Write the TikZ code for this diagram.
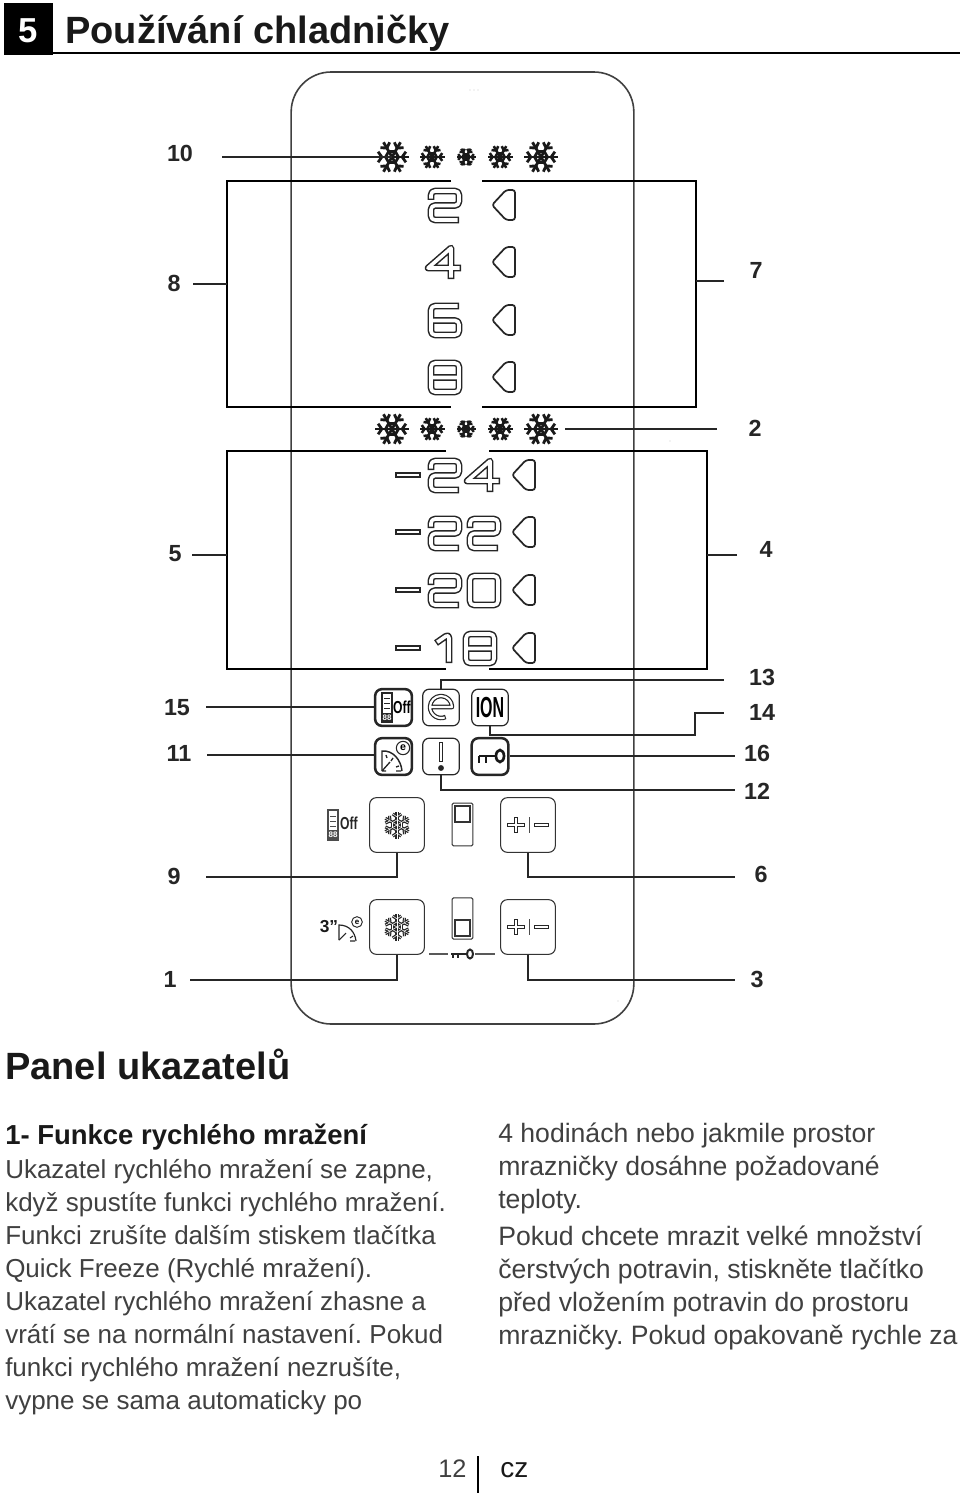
\documentclass[tikz,border=0pt]{standalone}
\usepackage{fontspec}
\setmainfont{Liberation Sans}
\usetikzlibrary{calc}
\tikzset{
 x=0.75pt,y=-0.75pt,
 frame/.style={draw=black,line width=1.1pt},
 lead/.style={draw=black!85,line width=1.1pt},
 lbl/.style={font=\fontsize{17.5}{20}\selectfont\bfseries,text=black!85,inner sep=0pt},
 body/.style={font=\fontsize{19.5}{24}\selectfont,text=black!75,anchor=base west,inner sep=0pt},
 bodyr/.style={font=\fontsize{19.95}{24}\selectfont,text=black!75,anchor=base west,inner sep=0pt},
 bodyb/.style={font=\fontsize{20.6}{24}\selectfont\bfseries,text=black!90,anchor=base west,inner sep=0pt},
 head/.style={font=\fontsize{28.5}{32}\selectfont\bfseries,text=black!90,anchor=base west,inner sep=0pt},
 icon/.style={draw=black!85,line width=0.9pt,rounded corners=5pt,minimum width=27.5pt,minimum height=27.5pt,inner sep=0pt},
 iconh/.style={draw=black!85,line width=1.9pt,rounded corners=5pt,minimum width=27.5pt,minimum height=27.5pt,inner sep=0pt},
 btn/.style={draw=black!80,line width=0.8pt,rounded corners=5pt,minimum width=41pt,minimum height=41pt,inner sep=0pt},
 slider/.style={draw=black!80,line width=0.8pt,rounded corners=1pt,minimum width=15.5pt,minimum height=32pt,inner sep=0pt},
 dout/.style={draw=black!85,line width=5pt,line join=round},
 din/.style={draw=white,line width=2.7pt,line join=round,shorten >=1.1pt,shorten <=1.1pt},
 dinc/.style={draw=white,line width=2.7pt,line join=round},
 iout/.style={draw=black!85,line width=3.4pt,line join=round},
 iin/.style={draw=white,line width=1.6pt,line join=round,shorten >=0.8pt,shorten <=0.8pt},
}
% double-outlined path
\newcommand{\dbl}[1]{\draw[dout,rounded corners=3pt]#1;\draw[din,rounded corners=3pt]#1;}
\newcommand{\dblc}[1]{\draw[dout,rounded corners=3pt]#1;\draw[dinc,rounded corners=3pt]#1;}
\newcommand{\dTwo}[2]{\begin{scope}[shift={(#1,#2)}]\dbl{(0,9)--(0,0)--(28,0)--(28,14.5)--(0,14.5)--(0,29)--(28,29)}\end{scope}}
\newcommand{\dFour}[2]{\begin{scope}[shift={(#1,#2)}]\draw[dout](22,31)--(22,0)--(-1,20)--(32,20);\draw[din](22,31)--(22,0)--(-1,20)--(32,20);\end{scope}}
\newcommand{\dSix}[2]{\begin{scope}[shift={(#1,#2)}]\dbl{(28,0)--(0,0)--(0,29)--(28,29)--(28,14.5)--(0,14.5)}\end{scope}}
\newcommand{\dEight}[2]{\begin{scope}[shift={(#1,#2)}]\dblc{(0,0)--(28,0)--(28,29)--(0,29)--cycle (0,14.5)--(28,14.5)}\end{scope}}
\newcommand{\dZero}[2]{\begin{scope}[shift={(#1,#2)}]\dblc{(0,0)--(28,0)--(28,29)--(0,29)--cycle}\end{scope}}
\newcommand{\dOne}[2]{\begin{scope}[shift={(#1,#2)}]\dbl{(0,9)--(13,0)--(13,29)}\end{scope}}
\newcommand{\dMinus}[2]{\draw[draw=black!85,line width=4.2pt](#1-1,#2)--+(26,0);\draw[draw=white,line width=1.6pt](#1+1,#2)--+(22,0);}
\newcommand{\tagmark}[2]{\draw[draw=black!85,line width=1.3pt,line join=round,rounded corners=2pt,fill=white](#1,#2)--(#1+14,#2-15)--(#1+23,#2-15)--(#1+23,#2+15)--(#1+14,#2+15)--cycle;}
% flake: x,y,radius,start angle,width,colour
\newcommand{\flake}[6]{\begin{scope}[shift={(#1,#2)}]
 \foreach \a in {0,60,...,300}{
  \draw[#6,line width=#5pt,line cap=butt](0,0)--++(\a+#4:#3);
  \draw[#6,line width=#5pt,line cap=butt]($(\a+#4:0.6*#3)$)--($(\a+#4:0.6*#3)+(\a+#4+55:0.38*#3)$);
  \draw[#6,line width=#5pt,line cap=butt]($(\a+#4:0.6*#3)$)--($(\a+#4:0.6*#3)+(\a+#4-55:0.38*#3)$);
  \draw[#6,line width=#5pt]($(\a+#4:0.38*#3)$)--($(\a+60+#4:0.38*#3)$);
 }
\end{scope}}
\begin{document}
\frenchspacing
\begin{tikzpicture}
\useasboundingbox (0,0) rectangle (960,1498);
% header
\node[fill=black,minimum width=36.75pt,minimum height=39pt,inner sep=0pt,font=\fontsize{26}{30}\selectfont\bfseries,text=white,text height=21pt,text depth=0pt] (sec) at (28.5,29) {5};
\coordinate (ruleend) at (960,53);
\draw[draw=black,line width=2.2pt] (sec.east |- ruleend) -- (ruleend);
\node[head] (title) at (65,44) {Používání chladničky};
% panel
\node[draw=black!75,line width=1.2pt,rounded corners=30pt,minimum width=257pt,minimum height=714pt,inner sep=0pt] (panel) at (462.5,548) {};
\fill[black!55] (470,90) circle (0.3pt) (474,90) circle (0.3pt) (478,90) circle (0.3pt) (670,441) circle (0.3pt) (618,1001) circle (0.3pt);
% frames
\coordinate (fa) at (451,181);\coordinate (fb) at (482,181);\coordinate (fc) at (482,407);\coordinate (fd) at (451,407);
\draw[frame] (fa) -- (227,181) -- (227,407) -- (fd);
\draw[frame] (fb) -- (696,181) -- (696,407) -- (fc);
\coordinate (ga) at (446,451);\coordinate (gb) at (489,451);\coordinate (gc) at (489,669);\coordinate (gd) at (446,669);
\draw[frame] (ga) -- (227,451) -- (227,669) -- (gd);
\draw[frame] (gb) -- (707,451) -- (707,669) -- (gc);
% flakes
\foreach \y in {157,429}{
 \flake{392}{\y}{17}{0}{2.1}{black!90}
 \flake{432}{\y}{12.5}{0}{1.9}{black!90}
 \flake{466}{\y}{9.5}{0}{1.8}{black!90}
 \flake{500}{\y}{12.5}{0}{1.9}{black!90}
 \flake{541}{\y}{17}{0}{2.1}{black!90}
}
% fridge digits
\dTwo{431}{191}\dFour{429}{248}\dSix{431}{306}\dEight{431}{363}
\tagmark{492}{205}\tagmark{492}{262}\tagmark{492}{320}\tagmark{492}{377}
% freezer digits
\dMinus{396}{475}\dTwo{431}{461}\dFour{468}{461}
\dMinus{396}{532}\dTwo{431}{519}\dTwo{470}{519}
\dMinus{396}{590}\dTwo{431}{576}\dZero{470}{576}
\dMinus{396}{648}\dOne{436}{634}\dEight{466}{634}
\tagmark{512}{475}\tagmark{512}{532}\tagmark{512}{590}\tagmark{512}{648}
% icons
\node[iconh] (iOff) at (393.5,707.5) {};
\node[icon] (iE) at (441,707.5) {};
\node[icon] (iIon) at (490,707.5) {};
\node[iconh] (iGauge) at (393.5,756.5) {};
\node[icon] (iWarn) at (441,756.5) {};
\node[iconh] (iKey) at (490,756.5) {};
% Off icon
\draw[black!85,line width=0.9pt] (382,693) rectangle (392,722);
\draw[black!85,line width=0.7pt] (384,698)--(390,698) (384,703)--(390,703) (384,708)--(390,708);
\fill[black!85] (382,713) rectangle (392,722);
\node[inner sep=0pt,font=\fontsize{6}{6}\selectfont\bfseries,text=white] (oA) at (387,717.5) {88};
\node[inner sep=0pt,font=\fontsize{13}{14}\selectfont\bfseries,text=black] (oB) at (402,707) {\scalebox{0.7}[1]{Off}};
% e icon
\draw[iout] (430,707)--(452,707) arc (0:-295:11);
\draw[iin] (430,707)--(452,707) arc (0:-295:11);
% ION
\node[inner sep=0pt,font=\fontsize{15}{16}\selectfont\bfseries,text=black] (ion) at (490,708) {\scalebox{0.8}[1.45]{ION}};
% gauge icon
\draw[black!85,line width=1.1pt] (382,771)--(382,751) .. controls (393,750) and (401,760) .. (402,771);
\draw[black!85,line width=1pt] (386,755)--(387,758) (393,758)--(391,761) (399,766)--(396,767) (382,771)--(390,762) (396,771)--(401,771) (382,771)--(386,771);
\node[draw=black!85,line width=0.8pt,circle,inner sep=0pt,minimum size=10pt,font=\fontsize{8}{8}\selectfont\bfseries] (gE) at (403,748) {e};
% warn
\draw[iout] (441,742)--(441,762);
\draw[iin] (441,742)--(441,762);
\fill[black!85] (441,768) circle (2.2pt);
% key
\draw[black!90,line width=1.8pt] (479,756)--(500,756) (479,756)--(479,763) (486,756)--(486,763);
\draw[black!90,line width=2pt,fill=white] (500,756) ellipse (4 and 6);
% off small
\draw[black!70,line width=0.8pt] (328,810) rectangle (338,840);
\draw[black!70,line width=0.6pt] (330,816)--(336,816) (330,821)--(336,821) (330,826)--(336,826);
\fill[black!70] (328,830) rectangle (338,840);
\node[inner sep=0pt,font=\fontsize{6}{6}\selectfont\bfseries,text=white] (oC) at (333,835) {88};
\node[inner sep=0pt,font=\fontsize{13}{14}\selectfont\bfseries,text=black!85] (oD) at (349,823) {\scalebox{0.7}[1]{Off}};
% buttons
\node[btn] (bA) at (397,825) {};
\node[btn] (bB) at (528,825) {};
\node[btn] (bC) at (397,927) {};
\node[btn] (bD) at (528,927) {};
\flake{397}{825}{13.5}{30}{2.3}{black!85}
\flake{397}{825}{13.5}{30}{0.4}{white}
\flake{397}{927}{13.5}{30}{2.3}{black!85}
\flake{397}{927}{13.5}{30}{0.4}{white}
\foreach \y in {825,927}{
 \draw[iout] (507,\y)--(525,\y) (516,\y-8)--(516,\y+8);
 \draw[draw=white,line width=1.2pt] (508,\y)--(524,\y) (516,\y-7)--(516,\y+7);
 \draw[draw=black!70,line width=0.7pt] (529,\y-8)--(529,\y+8);
 \draw[iout] (534,\y)--(549,\y);
 \draw[draw=white,line width=1.2pt] (535,\y)--(548,\y);
}
% sliders
\node[slider] (sA) at (462.5,824.5) {};
\draw[black!80,line width=0.8pt] (455,806) rectangle (470,822);
\node[slider,minimum height=31pt] (sB) at (462.5,918.5) {};
\draw[black!80,line width=0.8pt] (455,920) rectangle (470,936);
% small key row
\coordinate (ka) at (429,954);\coordinate (kb) at (448,954);\coordinate (kc) at (475,954);\coordinate (kd) at (495,954);
\draw[black!65,line width=0.8pt] (ka)--(kb) (kc)--(kd);
\draw[black!85,line width=1.3pt] (451,954)--(468,954) (453,954)--(453,958) (458,954)--(458,958);
\draw[black!85,line width=1.5pt,fill=white] (470,954) ellipse (3 and 4.5);
% 3" gauge
\node[inner sep=0pt,font=\fontsize{13}{13}\selectfont\bfseries,text=black!90] (tt) at (329,927) {3"};
\draw[black!85,line width=0.9pt] (339,940)--(339,925) .. controls (349,925) and (355,932) .. (356,941);
\draw[black!85,line width=0.8pt] (339,940)--(346,933) (350,938)--(353,936) (350,941)--(355,941);
\node[draw=black!85,line width=0.7pt,circle,inner sep=0pt,minimum size=8pt,font=\fontsize{6}{6}\selectfont\bfseries] (gF) at (357,922) {e};
% labels & leader ends
\node[lbl] (l10) at (180,153) {10};
\node[lbl] (l8) at (174,283) {8};
\node[lbl] (l7) at (756,270) {7};
\node[lbl] (l2) at (755,428) {2};
\node[lbl] (l5) at (175,554) {5};
\node[lbl] (l4) at (766,549) {4};
\node[lbl] (l13) at (762,677) {13};
\node[lbl] (l14) at (762,712) {14};
\node[lbl] (l15) at (177,708) {15};
\node[lbl] (l11) at (179,753) {11};
\node[lbl] (l16) at (757,753) {16};
\node[lbl] (l12) at (757,791) {12};
\node[lbl] (l9) at (174,876) {9};
\node[lbl] (l6) at (761,874) {6};
\node[lbl] (l1) at (170,979) {1};
\node[lbl] (l3) at (757,979) {3};
\coordinate (e10) at (222,157);\coordinate (p10) at (392,157);
\coordinate (e8) at (193,284);\coordinate (p8) at (227,284);
\coordinate (e7) at (724,281);\coordinate (p7) at (696,281);
\coordinate (e2) at (717,429);\coordinate (p2) at (565,429);
\coordinate (e5) at (192,555);\coordinate (p5) at (227,555);
\coordinate (e4) at (737,555);\coordinate (p4) at (707,555);
\coordinate (e13) at (724,680);
\coordinate (e14) at (724,713);\coordinate (m14) at (695,735);
\coordinate (e15) at (206,707);
\coordinate (e11) at (207,755);
\coordinate (e16) at (735,756);
\coordinate (e12) at (735,790);
\coordinate (e9) at (206,877);
\coordinate (e6) at (735,877);
\coordinate (e1) at (190,980);
\coordinate (e3) at (735,980);
\draw[lead] (e10)--(p10);
\draw[lead] (e8)--(p8);
\draw[lead] (e7)--(p7);
\draw[lead] (e2)--(p2);
\draw[lead] (e5)--(p5);
\draw[lead] (e4)--(p4);
\draw[lead] (iE.north) |- (e13);
\draw[lead] (iIon.south) |- (m14) -- (m14 |- e14) -- (e14);
\draw[lead] (e15)--(iOff.west |- e15);
\draw[lead] (e11)--(iGauge.west |- e11);
\draw[lead] (iKey.east |- e16)--(e16);
\draw[lead] (iWarn.south) |- (e12);
\draw[lead] (bA.south) |- (e9);
\draw[lead] (bB.south) |- (e6);
\draw[lead] (bC.south) |- (e1);
\draw[lead] (bD.south) |- (e3);
% text
\node[head] (pu) at (5,1079) {Panel ukazatelů};
\node[bodyb] (t0) at (5,1144) {1- Funkce rychlého mražení};
\node[body] (t1) at (5,1178) {Ukazatel rychlého mražení se zapne,};
\node[body] (t2) at (5,1211) {když spustíte funkci rychlého mražení.};
\node[body] (t3) at (5,1244) {Funkci zrušíte dalším stiskem tlačítka};
\node[body] (t4) at (5,1277) {Quick Freeze (Rychlé mražení).};
\node[body] (t5) at (5,1310) {Ukazatel rychlého mražení zhasne a};
\node[body] (t6) at (5,1343) {vrátí se na normální nastavení. Pokud};
\node[body] (t7) at (5,1376) {funkci rychlého mražení nezrušíte,};
\node[body] (t8) at (5,1409) {vypne se sama automaticky po};
\node[bodyr] (r1) at (498,1142) {4 hodinách nebo jakmile prostor};
\node[bodyr] (r2) at (498,1175) {mrazničky dosáhne požadované};
\node[bodyr] (r3) at (498,1208) {teploty.};
\node[bodyr] (r4) at (498,1245) {Pokud chcete mrazit velké množství};
\node[bodyr] (r5) at (498,1278) {čerstvých potravin, stiskněte tlačítko};
\node[bodyr] (r6) at (498,1311) {před vložením potravin do prostoru};
\node[bodyr] (r7) at (498,1344) {mrazničky. Pokud opakovaně rychle za};
% footer
\node[body,font=\fontsize{19}{24}\selectfont] (pg) at (438,1477) {12};
\node[body,font=\fontsize{21}{24}\selectfont,text=black!90] (cz) at (500,1477) {cz};
\coordinate (ba) at (478,1456);\coordinate (bb) at (478,1493);
\draw[draw=black,line width=1.8pt] (ba)--(bb);
\end{tikzpicture}
\end{document}
